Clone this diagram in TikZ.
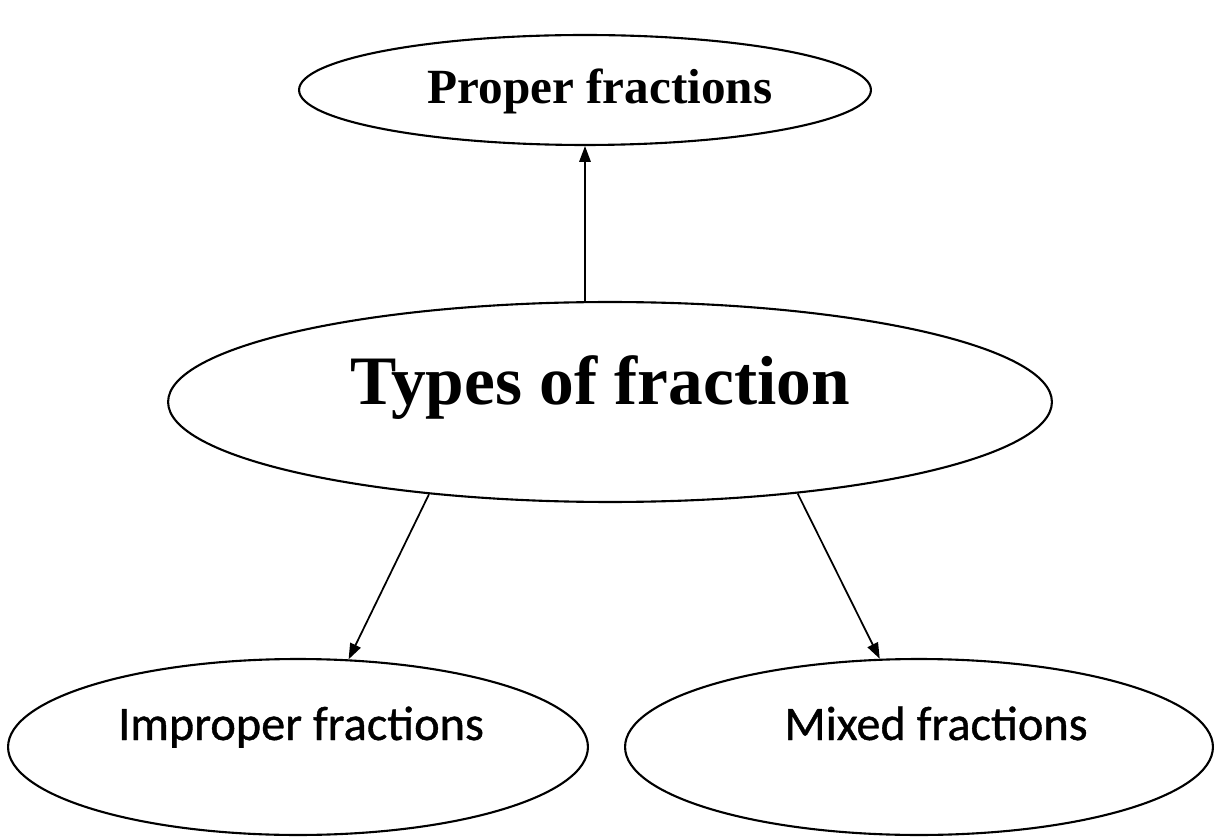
\documentclass[tikz,border=0pt]{standalone}
\usepackage{fontspec}
\setmainfont{Liberation Serif}
\newfontfamily\calib[FakeBold=0.8]{Carlito}
\usetikzlibrary{shapes.geometric,arrows.meta}
\begin{document}
\begin{tikzpicture}[x=0.02cm,y=-0.02cm,
  oval/.style={draw, ellipse, line width=1.2pt, inner sep=0pt},
  arr/.style={line width=1pt, -{Triangle[length=9pt,width=6.5pt]}},
  plain/.style={inner sep=0pt, anchor=base}]
\useasboundingbox (0,0) rectangle (1223,837);
% ellipses
\node[oval, minimum width=11.44cm, minimum height=2.2cm] (proper) at (585,90) {};
\node[oval, minimum width=17.68cm, minimum height=4.0cm] (types) at (610,402) {};
\node[oval, minimum width=11.6cm, minimum height=3.52cm] (improper) at (298,747) {};
\node[oval, minimum width=11.76cm, minimum height=3.52cm] (mixed) at (919,747) {};
% texts
\node[plain, font=\bfseries\fontsize{28}{30}\selectfont] (propertext) at (600,104) {Proper fractions};
\node[plain, font=\bfseries\fontsize{39.5}{42}\selectfont] (typestext) at (600,405) {Types of fraction};
\node[plain, font=\calib\fontsize{27.5}{30}\selectfont] (impropertext) at (301,740) {Improper fractions};
\node[plain, font=\calib\fontsize{27.5}{30}\selectfont] (mixedtext) at (936,740) {Mixed fractions};
% connectors
\draw[arr] (types.north -| proper.south) -- (proper.south);
\draw[arr] (types.207.5) -- (improper.60.6);
\draw[arr] (types.334.2) -- (mixed.114.1);
\end{tikzpicture}
\end{document}
